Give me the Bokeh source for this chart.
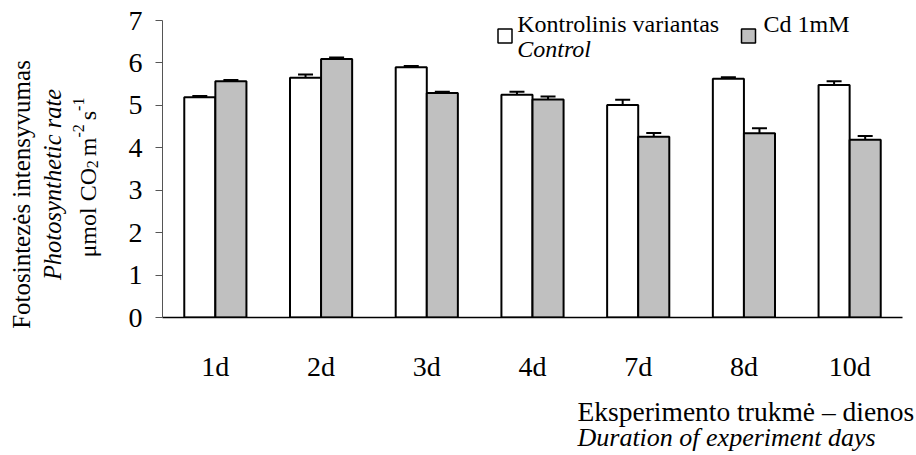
import math
from bokeh.plotting import figure
from bokeh.layouts import row, column
from bokeh.models import ColumnDataSource, FactorRange, Range1d, Whisker, TeeHead, FixedTicker
from bokeh.core.properties import value
from bokeh.transform import dodge
from bokeh.embed import file_html
from bokeh.resources import INLINE

# ---- data ----
days = ["1d", "2d", "3d", "4d", "7d", "8d", "10d"]
control = [5.19, 5.65, 5.90, 5.25, 5.01, 5.63, 5.48]
control_err = [0.03, 0.08, 0.03, 0.07, 0.12, 0.03, 0.09]
cd = [5.57, 6.09, 5.29, 5.14, 4.26, 4.34, 4.19]
cd_err = [0.03, 0.04, 0.03, 0.07, 0.09, 0.12, 0.09]
y_ticks = [0, 1, 2, 3, 4, 5, 6, 7]

FONT = "Liberation Serif"

src = ColumnDataSource(dict(
    day=days, control=control, cd=cd,
    c_lo=[v - e for v, e in zip(control, control_err)],
    c_hi=[v + e for v, e in zip(control, control_err)],
    d_lo=[v - e for v, e in zip(cd, cd_err)],
    d_hi=[v + e for v, e in zip(cd, cd_err)],
))

# ---- layout (page pixels) ----
TOTAL_W, TOTAL_H = 916, 455
LW = 110           # left strip with the y title
TH = 395           # height of the main plot
FL, FR, FT, FB = 162, 902, 20, 317    # where y=7 / y=0 and the x extent lie
YMAX = y_ticks[-1]
PXU = (FB - FT) / YMAX                # pixels per y unit

def strip(x0, y0, w, h):
    # text-only figure whose data coordinates equal page pixels
    f = figure(width=w, height=h, output_backend="svg", toolbar_location=None,
               x_range=Range1d(x0, x0 + w), y_range=Range1d(y0 + h, y0),
               x_axis_location=None, y_axis_location=None,
               min_border_left=0, min_border_right=0, min_border_top=0, min_border_bottom=0)
    f.outline_line_color = None
    f.grid.visible = False
    return f

# ---- main plot (frame reaches the top of the page so the legend is not clipped) ----
p = figure(width=TOTAL_W - LW, height=TH, output_backend="svg", toolbar_location=None,
           x_range=FactorRange(*days, range_padding=0),
           y_range=Range1d(0, YMAX + FT / PXU),
           min_border_left=FL - LW, min_border_right=TOTAL_W - FR,
           min_border_top=0, min_border_bottom=TH - FB)
p.outline_line_color = None
p.grid.visible = False

def xd(sx):
    return (sx - FL) / ((FR - FL) / len(days))

def yd(sy):
    return (FB - sy) / PXU

BW = 0.294
p.vbar(x=dodge("day", -BW / 2, range=p.x_range), top="control", width=BW, source=src,
       fill_color="white", line_color="black", line_width=2)
p.vbar(x=dodge("day", BW / 2, range=p.x_range), top="cd", width=BW, source=src,
       fill_color="#C0C0C0", line_color="black", line_width=2)

for off, lo, hi in [(-BW / 2, "c_lo", "c_hi"), (BW / 2, "d_lo", "d_hi")]:
    w = Whisker(source=src, base=dodge("day", off, range=p.x_range), lower=lo, upper=hi,
                line_color="black", line_width=2,
                upper_head=TeeHead(size=15, line_width=2, line_color="black"),
                lower_head=TeeHead(size=15, line_width=2, line_color="black"))
    p.add_layout(w)

p.yaxis.ticker = FixedTicker(ticks=y_ticks)
p.yaxis.bounds = (y_ticks[0], y_ticks[-1])
p.yaxis.axis_line_color = "#555555"
p.yaxis.axis_line_width = 1
p.yaxis.major_tick_line_color = "#555555"
p.yaxis.major_tick_out = 7
p.yaxis.major_tick_in = 0
p.yaxis.minor_tick_line_color = None
p.yaxis.major_label_standoff = 13
p.yaxis.major_label_text_font = FONT
p.yaxis.major_label_text_font_size = "28px"
p.yaxis.major_label_text_color = "black"

p.xaxis.axis_line_color = "black"
p.xaxis.axis_line_width = 1.5
p.xaxis.major_tick_line_color = None
p.xaxis.minor_tick_line_color = None
p.xaxis.major_tick_out = 0
p.xaxis.major_tick_in = 0
p.xaxis.major_label_standoff = 33
p.xaxis.major_label_text_font = FONT
p.xaxis.major_label_text_font_size = "28px"
p.xaxis.major_label_text_color = "black"

def txt(f, conv, text, sx, sy, size, style="normal", angle=0.0, align="left"):
    # sx, sy: position of the text's middle line (page pixels)
    x, y = conv(sx, sy)
    f.text(x=[x], y=[y], text=[text], text_font=value(FONT), text_font_size=f"{size}px",
           text_font_style=style, angle=angle, text_align=align,
           text_baseline="middle", text_color="black")

main_conv = lambda sx, sy: (xd(sx), yd(sy))
ident = lambda sx, sy: (sx, sy)

# legend (inside the plot frame)
p.scatter(x=[xd(504.5), xd(748)], y=[yd(35.5), yd(35.5)], marker="square", size=14,
          fill_color=["white", "#C0C0C0"], line_color="black", line_width=1.5)
txt(p, main_conv, "Kontrolinis variantas", 516.7, 23, 24)
txt(p, main_conv, "Control", 516.7, 48, 24, style="italic")
txt(p, main_conv, "Cd 1mM", 763, 23, 24)

# ---- left strip: y title (rotated, reading upward) ----
left = strip(0, 0, LW, TOTAL_H)
A = math.pi / 2
txt(left, ident, "Fotosintezės intensyvumas", 21, 194, 25, angle=A, align="center")
txt(left, ident, "Photosynthetic rate", 52, 184, 24.5, style="italic", angle=A, align="center")
# (text, size, shift across the line, length in em, gap after in px)
pieces = [("μmol CO", 24, 0, 3.72, 0), ("2", 16, 5, 0.5, 4), ("m", 24, 0, 0.778, 0),
          ("-2", 16, -9, 0.833, 4), ("s", 24, 0, 0.389, 0), ("-1", 16, -9, 0.833, 0)]
sy = 257
for t, size, shift, em, gap in pieces:
    txt(left, ident, t, 87 + shift, sy, size, angle=A, align="left")
    sy -= em * size + gap

# ---- bottom strip: x title ----
bottom = strip(LW, TH, TOTAL_W - LW, TOTAL_H - TH)
txt(bottom, ident, "Eksperimento trukmė – dienos", 577, 411, 27.5)
txt(bottom, ident, "Duration of experiment days", 577, 437, 26, style="italic")

layout = row(left, column(p, row(bottom, spacing=0), spacing=0), spacing=0)
open("out.html", "w").write(file_html(layout, INLINE))
